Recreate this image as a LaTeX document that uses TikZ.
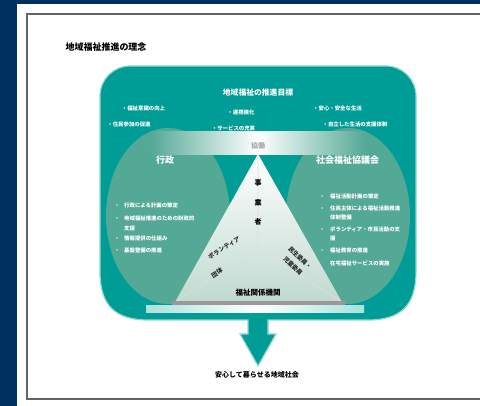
\documentclass[tikz,border=0pt]{standalone}
\usepackage{fontspec}
\newfontfamily\jp{Noto Sans CJK JP}
\definecolor{navy}{RGB}{0,48,94}
\definecolor{frame}{RGB}{100,100,100}
\definecolor{tealA}{RGB}{0,156,150}
\definecolor{lobe}{RGB}{84,168,150}
\definecolor{edgeC}{RGB}{150,215,210}
\definecolor{triB}{RGB}{192,218,208}
\definecolor{barlight}{RGB}{170,225,220}
\tikzset{
  captext/.style={font=\jp\bfseries\fontsize{9}{10}\selectfont, text=black, inner sep=0},
  wsmall/.style={font=\jp\bfseries\fontsize{5.4}{6}\selectfont, text=white, inner sep=0},
  wtitle/.style={font=\jp\bfseries\fontsize{7.8}{9}\selectfont, text=white, inner sep=0},
  lobetitle/.style={font=\jp\bfseries\fontsize{9}{10}\selectfont, text=white, inner sep=0},
  trichar/.style={font=\jp\bfseries\fontsize{7}{8}\selectfont, text=black, inner sep=0},
  tritext/.style={font=\jp\bfseries\fontsize{6}{7}\selectfont, text=black!85, inner sep=0, align=center},
  bul/.style={fill=barlight}
}
\begin{document}
\begin{tikzpicture}[x=1pt,y=-1pt]
\useasboundingbox (0,0) rectangle (480,406);
\fill[navy] (0,0) rectangle (480,406);
\fill[white] (17,4) rectangle (480,406);
\draw[frame, line width=2] (481,14) -- (27,14) -- (27,399) -- (481,399);

% caption
\node[captext] (caption) at (106,47) {地域福祉推進の理念};

% teal container with arrow
\path[fill=tealA, draw=edgeC, line width=1.2]
  (100,96) arc (180:270:30) -- (386,66) arc (270:360:30)
  -- (416,272) .. controls (416,306) and (400,320) .. (368,320)
  -- (268,320) -- (268,334) -- (276,334) -- (258,366) -- (240,334) -- (248,334) -- (248,320)
  -- (148,320) .. controls (116,320) and (100,306) .. (100,272) -- cycle;

% lobes
\fill[lobe] (168,216) ellipse [x radius=62, y radius=88];
\fill[lobe] (348,216) ellipse [x radius=62, y radius=88];

% gradient bar
\shade[left color=lobe, right color=lobe, middle color=white] (150,132) rectangle (366,155);

% triangle
\shade[top color=white, bottom color=triB] (258,154) -- (342,302) -- (175,302) -- cycle;
\draw[white!75!gray, line width=0.6] (258,156) -- (258,250) -- (176,301);
\draw[white!75!gray, line width=0.6] (258,250) -- (341,301);
\fill[black!40] (172,301) rectangle (345,305);
\shade[left color=barlight, right color=barlight, middle color=white] (146,306) rectangle (364,313);

% top texts
\node[wtitle] (title) at (258,93) {地域福祉の推進目標};
\node[wsmall] (l1) at (143.5,108) {・福祉意識の向上};
\node[wsmall] (l2) at (129,124) {・住民参加の促進};
\node[wsmall] (c1) at (241,112) {・連携強化};
\node[wsmall] (c2) at (233.5,128) {・サービスの充実};
\node[wsmall] (r1) at (337.5,108) {・安心・安全な生活};
\node[wsmall] (r2) at (355,124) {・自立した生活の支援体制};

% bar label
\node[font=\jp\bfseries\fontsize{7}{8}\selectfont, text=gray!70, inner sep=0] (bar) at (258,146) {協働};

% lobe titles
\node[lobetitle] (lt) at (165,160) {行政};
\node[lobetitle] (rt) at (347.5,160) {社会福祉協議会};

% left bullets
\foreach \y in {205,218,238,250} \fill[bul] (117,\y) circle (1);
\node[wsmall, anchor=west] (lb1) at (124,205) {行政による計画の策定};
\node[wsmall, anchor=west] (lb2) at (124,218) {地域福祉推進のための財政的};
\node[wsmall, anchor=west] (lb2b) at (124,228) {支援};
\node[wsmall, anchor=west] (lb3) at (124,238) {情報提供の仕組み};
\node[wsmall, anchor=west] (lb4) at (124,250) {基盤整備の推進};

% right bullets
\foreach \y in {196,208,229,250} \fill[bul] (322,\y) circle (1);
\node[wsmall, anchor=west] (rb1) at (330,196) {福祉活動計画の策定};
\node[wsmall, anchor=west] (rb2) at (330,208) {住民主体による福祉活動推進};
\node[wsmall, anchor=west] (rb2b) at (330,217) {体制整備};
\node[wsmall, anchor=west] (rb3) at (330,229) {ボランティア・市民活動の支};
\node[wsmall, anchor=west] (rb3b) at (330,238) {援};
\node[wsmall, anchor=west] (rb4) at (330,250) {福祉教育の推進};
\node[wsmall, anchor=west] (rb5) at (330,263) {在宅福祉サービスの実施};

% triangle texts
\node[trichar] (t1) at (258,183) {事};
\node[trichar] (t2) at (258,203) {業};
\node[trichar] (t3) at (258,222) {者};
\node[tritext, rotate=31] (tl1) at (224,248) {ボランティア};
\node[tritext, rotate=31] (tl2) at (217,273) {団体};
\node[tritext, rotate=-45] (tr1) at (300,258) {民生委員・};
\node[tritext, rotate=-45] (tr2) at (293,266) {児童委員};
\node[trichar, font=\jp\bfseries\fontsize{7.5}{8}\selectfont] (tb) at (258,293) {福祉関係機関};

% bottom caption
\node[captext, font=\jp\bfseries\fontsize{7}{8}\selectfont] (out) at (257,375) {安心して暮らせる地域社会};
\end{tikzpicture}
\end{document}
